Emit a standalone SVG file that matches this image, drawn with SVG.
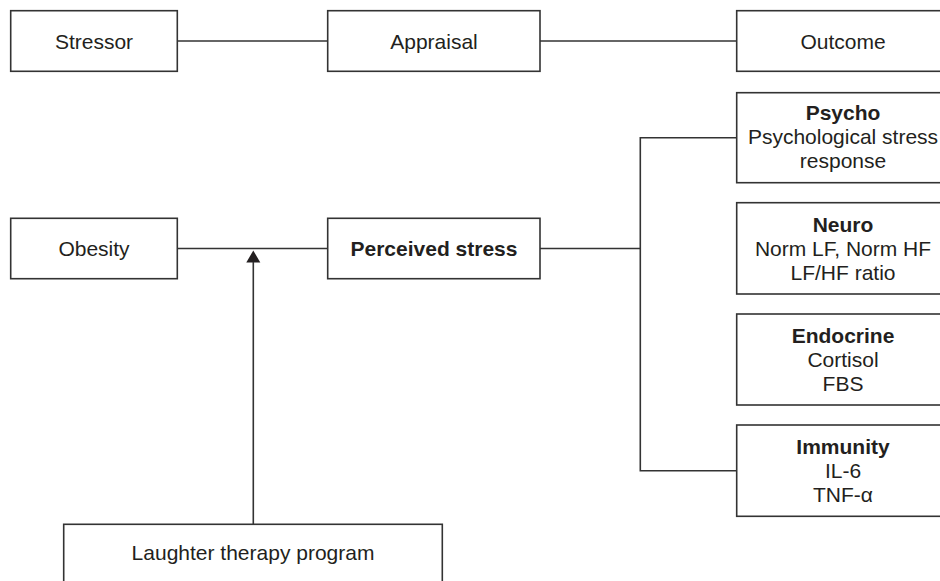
<svg xmlns="http://www.w3.org/2000/svg" width="940" height="581" viewBox="0 0 940 581">
<defs>
<style>
.box{fill:#fff;stroke:#333;stroke-width:1.6}
.ln{fill:none;stroke:#333;stroke-width:1.6}
text{font-family:"Liberation Sans",Arial,sans-serif;font-size:21px;fill:#231f20;text-anchor:middle}
.b{font-weight:bold}
</style>
</defs>
<rect width="940" height="581" fill="#fff"/>
<g id="connectors">
<line class="ln" x1="177" y1="41" x2="328" y2="41"/>
<line class="ln" x1="540" y1="41" x2="737" y2="41"/>
<line class="ln" x1="177" y1="248.5" x2="328" y2="248.5"/>
<line class="ln" x1="540" y1="248.5" x2="640.3" y2="248.5"/>
<polyline class="ln" points="737,137.7 640.3,137.7 640.3,470.7 737,470.7"/>
<path d="M246.3,262.5 L253.3,250.5 L260.3,262.5 Z" fill="#231f20"/>
<line class="ln" x1="253.3" y1="262" x2="253.3" y2="524.3"/>
</g>
<g id="stressor"><rect class="box" x="10.7" y="10.7" width="166.6" height="60.6"/><text x="94" y="48.5">Stressor</text></g>
<g id="appraisal"><rect class="box" x="327.7" y="10.7" width="212.3" height="60.6"/><text x="434" y="48.5">Appraisal</text></g>
<g id="outcome"><rect class="box" x="736.7" y="10.7" width="214" height="60.6"/><text x="843" y="48.5">Outcome</text></g>
<g id="obesity"><rect class="box" x="10.7" y="218.3" width="166.6" height="60.4"/><text x="94" y="256">Obesity</text></g>
<g id="perceived"><rect class="box" x="327.7" y="218.3" width="212.3" height="60.4"/><text class="b" x="434" y="256">Perceived stress</text></g>
<g id="psycho"><rect class="box" x="736.7" y="92.7" width="214" height="90"/>
<text class="b" x="843" y="120">Psycho</text><text x="843" y="144">Psychological stress</text><text x="843" y="168">response</text></g>
<g id="neuro"><rect class="box" x="736.7" y="202.7" width="214" height="91.3"/>
<text class="b" x="843" y="231.5">Neuro</text><text x="843" y="255.5">Norm LF, Norm HF</text><text x="843" y="279.5">LF/HF ratio</text></g>
<g id="endocrine"><rect class="box" x="736.7" y="314" width="214" height="91"/>
<text class="b" x="843" y="342.5">Endocrine</text><text x="843" y="366.5">Cortisol</text><text x="843" y="390.5">FBS</text></g>
<g id="immunity"><rect class="box" x="736.7" y="425" width="214" height="91.3"/>
<text class="b" x="843" y="454">Immunity</text><text x="843" y="478">IL-6</text><text x="843" y="502">TNF-α</text></g>
<g id="laughter"><rect class="box" x="63.7" y="524.3" width="378.6" height="80"/><text x="253" y="560">Laughter therapy program</text></g>
</svg>
